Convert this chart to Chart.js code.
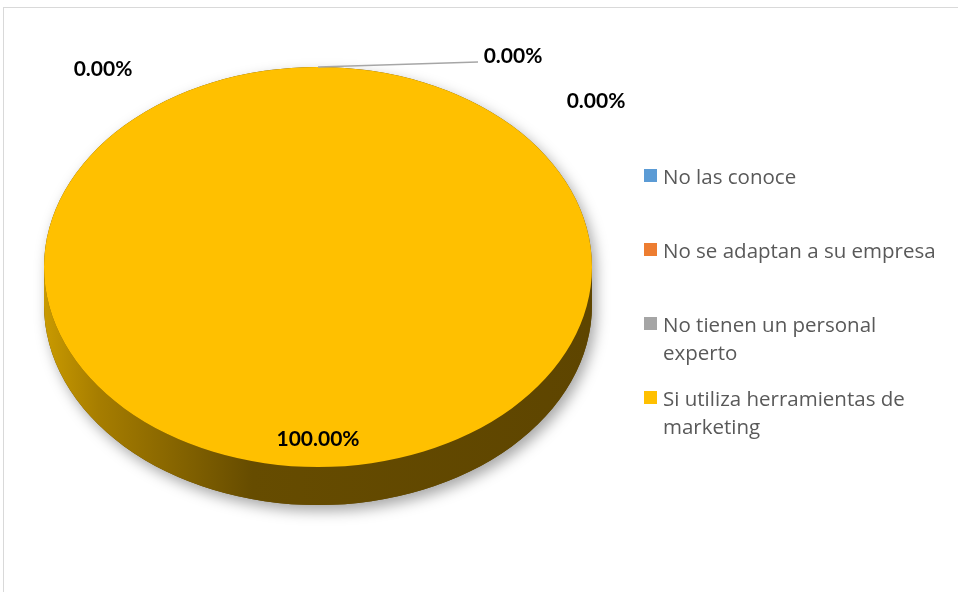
<!DOCTYPE html>
<html>
<head>
<meta charset="utf-8">
<script src="https://cdn.jsdelivr.net/npm/chart.js@4.4.1/dist/chart.umd.min.js"></script>
<style>
  html, body { margin: 0; padding: 0; background: #fff; overflow: hidden; }
  #wrap { position: relative; width: 958px; height: 592px; }
  #frame { position: absolute; left: 3px; top: 7px; width: 980px; height: 620px; border: 1px solid #d9d9d9; box-sizing: border-box; }
  #chart-box { position: absolute; left: 0; top: 0; width: 958px; height: 592px; }
  #legend { position: absolute; left: 644px; top: 162px; margin: 0; padding: 0; list-style: none;
            font-family: "Open Sans", Lato, sans-serif; font-size: 20.5px; color: #595959; }
  #legend li { position: relative; height: 74px; padding-left: 19px; width: 285px; line-height: 28px; }
  #legend li span.box { position: absolute; left: 0; top: 7px; width: 13px; height: 13px; }
</style>
</head>
<body>
<div id="wrap">
  <div id="frame"></div>
  <div id="chart-box"><canvas id="pie"></canvas></div>
  <ul id="legend"></ul>
</div>
<script>
  // survey answers and their share
  const categories = [
    'No las conoce',
    'No se adaptan a su empresa',
    'No tienen un personal experto',
    'Si utiliza herramientas de marketing'
  ];
  const shares = [0, 0, 0, 100];
  const sliceColors = ['#5B9BD5', '#ED7D31', '#A5A5A5', '#FFC000'];

  // fake 3D look: squash the pie vertically and extrude a side wall
  const TILT = 200 / 274;
  const DEPTH = 38;
  const LIFT = 29;

  // where each label sits relative to its slice anchor (0% slices share the top point)
  const labelOffsets = [
    { dx: -215, dy: 2 },
    { dx: 195, dy: -11, leader: { dx: 160, dy: -5 } },
    { dx: 278, dy: 34 },
    null
  ];

  function screenGeom(arc) {
    const rx = arc.outerRadius;
    return { cx: arc.x, cy: arc.y - LIFT, rx: rx, ry: rx * TILT };
  }

  function sideGradient(ctx, g) {
    const grad = ctx.createLinearGradient(g.cx - g.rx, 0, g.cx + g.rx, 0);
    grad.addColorStop(0, '#c99a00');
    grad.addColorStop(0.1, '#a67d00');
    grad.addColorStop(0.38, '#664c00');
    grad.addColorStop(1, '#5e4500');
    return grad;
  }

  const pie3d = {
    id: 'pie3d',
    beforeDatasetsDraw(chart) {
      const ctx = chart.ctx;
      const arcs = chart.getDatasetMeta(0).data;
      if (!arcs.length) return;
      const g = screenGeom(arcs[0]);

      // soft drop shadow under the whole disc
      ctx.save();
      ctx.shadowColor = 'rgba(0,0,0,0.35)';
      ctx.shadowBlur = 14;
      ctx.shadowOffsetX = 4;
      ctx.shadowOffsetY = 6;
      ctx.fillStyle = '#5e4500';
      ctx.beginPath();
      ctx.ellipse(g.cx, g.cy, g.rx, g.ry, 0, Math.PI, 0);
      ctx.ellipse(g.cx, g.cy + DEPTH, g.rx, g.ry, 0, 0, Math.PI);
      ctx.closePath();
      ctx.fill();
      ctx.restore();

      // side wall: only the front half (0..PI) is visible
      arcs.forEach((arc) => {
        const a0 = Math.max(arc.startAngle, 0);
        const a1 = Math.min(arc.endAngle, Math.PI);
        if (a1 <= a0) return;
        ctx.save();
        ctx.fillStyle = sideGradient(ctx, g);
        ctx.beginPath();
        ctx.ellipse(g.cx, g.cy, g.rx, g.ry, 0, a0, a1);
        ctx.ellipse(g.cx, g.cy + DEPTH, g.rx, g.ry, 0, a1, a0, true);
        ctx.closePath();
        ctx.fill();
        ctx.restore();
      });

      // top face drawn by Chart.js through a vertical squash
      ctx.save();
      ctx.translate(g.cx, g.cy);
      ctx.scale(1, TILT);
      ctx.translate(-arcs[0].x, -arcs[0].y);
    },
    afterDatasetsDraw(chart) {
      const ctx = chart.ctx;
      const arcs = chart.getDatasetMeta(0).data;
      if (!arcs.length) return;
      ctx.restore();

      const values = chart.data.datasets[0].data;
      ctx.save();
      ctx.font = 'bold 21px Lato, "Open Sans", sans-serif';
      ctx.fillStyle = '#000';
      ctx.textAlign = 'center';
      ctx.textBaseline = 'middle';
      arcs.forEach((arc, i) => {
        const g = screenGeom(arc);
        const text = values[i].toFixed(2) + '%';
        const off = labelOffsets[i];
        if (off) {
          const ax = g.cx + g.rx * Math.cos(arc.startAngle);
          const ay = g.cy + g.ry * Math.sin(arc.startAngle);
          if (off.leader) {
            ctx.strokeStyle = '#a6a6a6';
            ctx.lineWidth = 1.5;
            ctx.beginPath();
            ctx.moveTo(ax, ay);
            ctx.lineTo(ax + off.leader.dx, ay + off.leader.dy);
            ctx.stroke();
          }
          ctx.fillText(text, ax + off.dx, ay + off.dy);
        } else {
          const mid = (arc.startAngle + arc.endAngle) / 2;
          ctx.fillText(text, g.cx + g.rx * 0.86 * Math.cos(mid), g.cy + g.ry * 0.86 * Math.sin(mid));
        }
      });
      ctx.restore();
    }
  };

  const chart = new Chart(document.getElementById('pie'), {
    type: 'pie',
    data: {
      labels: categories,
      datasets: [{
        data: shares,
        backgroundColor: sliceColors,
        borderWidth: 0
      }]
    },
    options: {
      responsive: true,
      maintainAspectRatio: false,
      animation: false,
      layout: { padding: { left: 44, right: 366, top: 22, bottom: 22 } },
      plugins: {
        legend: { display: false },
        tooltip: { enabled: false }
      }
    },
    plugins: [pie3d]
  });

  // html legend so long names can wrap like the original
  const legendEl = document.getElementById('legend');
  Chart.overrides.pie.plugins.legend.labels.generateLabels(chart).forEach(item => {
    const li = document.createElement('li');
    const box = document.createElement('span');
    box.className = 'box';
    box.style.background = item.fillStyle;
    li.appendChild(box);
    li.appendChild(document.createTextNode(item.text));
    legendEl.appendChild(li);
  });
</script>
</body>
</html>
